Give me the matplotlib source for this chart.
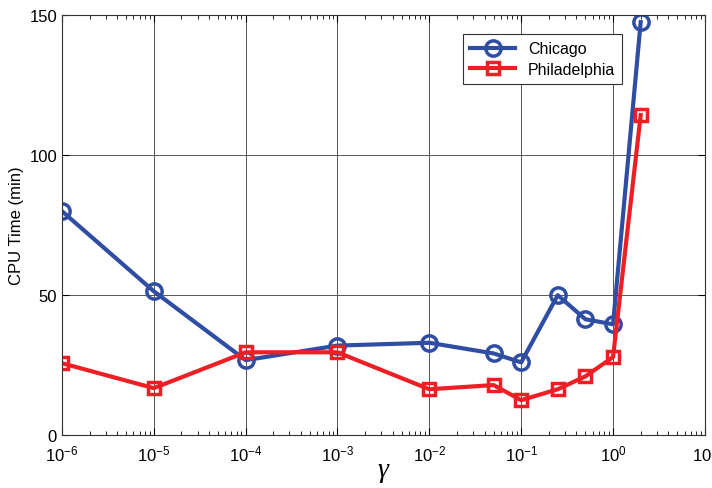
import matplotlib
matplotlib.use("Agg")
import matplotlib.pyplot as plt
from matplotlib.ticker import LogLocator, NullFormatter

plt.rcParams["font.family"] = ["Liberation Sans", "DejaVu Sans"]
plt.rcParams["mathtext.fontset"] = "custom"
plt.rcParams["mathtext.rm"] = "Liberation Sans"
plt.rcParams["mathtext.it"] = "Liberation Serif:italic"

gamma = [1e-6, 1e-5, 1e-4, 1e-3, 1e-2, 0.05, 0.1, 0.25, 0.5, 1.0, 2.0]
chicago = [80.0, 51.4, 26.8, 32.0, 33.0, 29.2, 26.0, 50.0, 41.4, 39.6, 147.5]
philadelphia = [25.7, 16.8, 29.6, 29.6, 16.4, 17.9, 12.5, 16.4, 21.0, 27.9, 114.3]

blue = "#2f4ea3"
red = "#ee1f24"

fig = plt.figure(figsize=(7.12, 4.89), dpi=100)
ax = fig.add_axes([0.087, 0.108, 0.903, 0.859])

ax.plot(gamma, chicago, "-o", color=blue, linewidth=3, markersize=11,
        markerfacecolor="none", markeredgewidth=2.5, label="Chicago")
ax.plot(gamma, philadelphia, "-s", color=red, linewidth=3, markersize=9,
        markerfacecolor="none", markeredgewidth=2.5, label="Philadelphia")

ax.set_xscale("log")
ax.set_xlim(1e-6, 10)
ax.set_ylim(0, 150)
ax.set_yticks([0, 50, 100, 150])
ax.xaxis.set_major_locator(LogLocator(base=10, numticks=20))
ax.xaxis.set_minor_locator(LogLocator(base=10, subs=range(2, 10), numticks=20))
ax.xaxis.set_minor_formatter(NullFormatter())

ax.grid(True, which="major", color="#555555", linewidth=0.7)
ax.tick_params(which="both", direction="in", top=True, right=True, labelsize=12)
ax.tick_params(which="major", length=5)
ax.tick_params(which="minor", length=3)
ax.tick_params(axis="x", pad=6)
for s in ax.spines.values():
    s.set_color("#333333")

ax.set_ylabel("CPU Time (min)", fontsize=12)
ax.set_xlabel(r"$\mathit{\gamma}$", fontsize=20, labelpad=-4)

leg = ax.legend(loc="upper left", bbox_to_anchor=(0.624, 0.955), borderaxespad=0,
                fontsize=11.5, fancybox=False, edgecolor="#333333", framealpha=1,
                handlelength=2.8, borderpad=0.45, labelspacing=0.35)
leg.get_frame().set_linewidth(0.8)

fig.savefig("out.png", dpi=100)
